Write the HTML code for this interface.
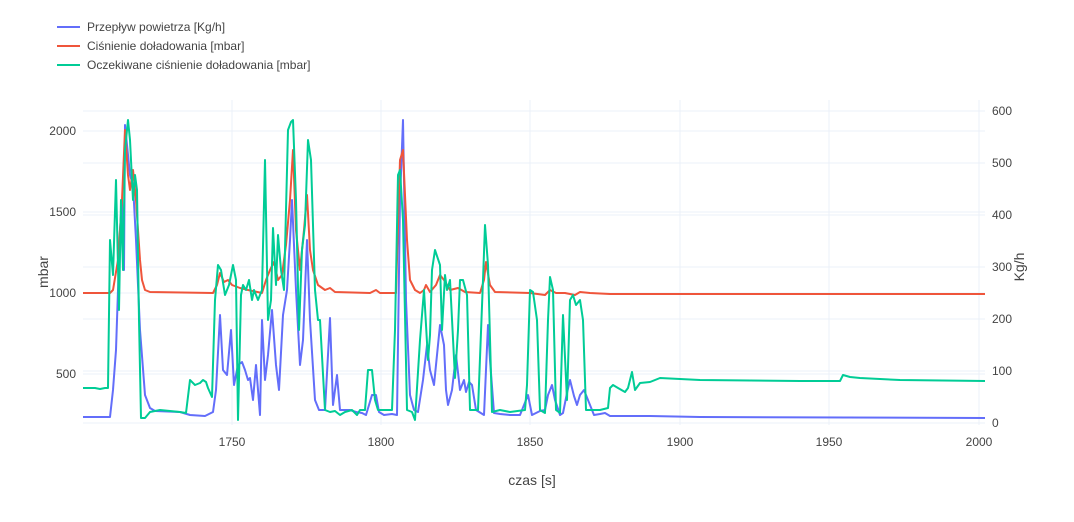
<!DOCTYPE html><html><head><style>body{margin:0;background:#fff}svg{font-family:"Liberation Sans",sans-serif;font-size:12px;fill:#444}</style></head><body>
<svg width="1074" height="517" xmlns="http://www.w3.org/2000/svg">
<g stroke="#ebf0f8" stroke-width="1">
<line x1="83" x2="985" y1="131" y2="131"/><line x1="83" x2="985" y1="212" y2="212"/><line x1="83" x2="985" y1="293" y2="293"/><line x1="83" x2="985" y1="374" y2="374"/>
<line x1="83" x2="985" y1="111" y2="111"/><line x1="83" x2="985" y1="163" y2="163"/><line x1="83" x2="985" y1="215" y2="215"/><line x1="83" x2="985" y1="267" y2="267"/><line x1="83" x2="985" y1="319" y2="319"/><line x1="83" x2="985" y1="371" y2="371"/><line x1="83" x2="985" y1="423" y2="423"/>
<line x1="232" x2="232" y1="100" y2="425"/><line x1="381" x2="381" y1="100" y2="425"/><line x1="530" x2="530" y1="100" y2="425"/><line x1="680" x2="680" y1="100" y2="425"/><line x1="829" x2="829" y1="100" y2="425"/><line x1="979" x2="979" y1="100" y2="425"/>
</g>
<g fill="none" stroke-width="2" stroke-linejoin="round">
<polyline stroke="#636efa" points="83,417 110,417 113,390 116,350 120,230 122,200 124,270 125,125 128,155 130,175 133,185 136,240 140,330 145,395 150,408 155,411 180,412 190,415 205,416 213,412 216,390 220,315 223,370 227,375 231,330 234,385 238,365 242,362 245,370 248,380 250,378 253,400 256,365 260,415 262,320 265,380 268,355 272,310 276,365 279,390 283,315 287,290 290,240 292,200 296,290 300,365 303,340 307,240 310,320 315,400 319,410 325,410 330,318 333,405 337,375 340,410 350,410 356,412 362,413 366,415 372,395 376,395 379,412 384,415 392,414 397,415 400,200 403,120 406,300 410,395 414,410 418,412 423,380 427,345 430,370 434,385 437,355 440,325 444,345 446,390 448,405 452,390 456,355 460,390 464,380 466,392 469,382 472,385 476,410 484,415 488,325 490,360 494,413 500,414 510,415 520,415 524,405 528,395 532,415 536,413 540,411 545,410 548,395 552,385 555,400 560,415 563,413 567,393 570,380 574,396 577,405 580,395 584,390 588,400 590,405 594,415 600,414 605,413 610,416 650,416 700,417 985,418"/>
<polyline stroke="#ef553b" points="83,293 110,293 113,290 118,260 122,200 125,130 128,175 130,190 133,170 136,200 140,260 142,280 145,290 150,292 213,293 217,285 220,273 224,282 228,280 232,285 240,288 248,290 262,293 266,280 270,270 274,262 278,280 282,275 286,245 290,200 293,150 296,230 300,270 304,230 307,195 310,250 313,270 318,285 325,290 330,288 335,292 370,293 376,290 380,293 396,293 400,160 403,150 407,240 410,280 415,290 420,293 424,290 426,285 430,292 436,285 440,275 444,280 450,290 458,288 465,292 480,293 484,280 486,262 490,285 495,292 530,293 545,295 550,290 556,293 565,293 575,295 580,292 590,293 610,294 985,294"/>
<polyline stroke="#00cc96" points="83,388 95,388 100,389 105,388 108,388 110,240 113,275 116,180 119,310 121,200 123,270 125,150 128,120 130,140 133,200 135,175 137,190 139,320 141,418 145,418 150,412 160,410 180,412 186,413 190,380 195,385 200,383 203,380 206,382 208,388 212,397 215,300 218,265 221,270 225,295 229,285 233,265 236,280 238,420 241,295 243,285 246,290 249,280 252,300 254,290 258,300 262,290 265,160 268,320 271,300 273,228 276,285 278,235 281,270 284,290 288,130 291,122 293,120 296,200 299,330 302,250 305,225 308,140 311,160 315,290 318,320 320,320 325,410 330,412 335,411 340,415 345,412 352,410 357,415 360,410 365,410 368,370 372,370 375,400 378,410 392,410 395,330 398,175 400,170 403,220 407,410 412,412 415,420 420,340 424,290 428,360 430,335 432,270 435,250 440,265 442,330 445,275 447,290 450,280 455,378 458,330 460,280 463,280 467,295 470,410 478,410 483,280 485,225 488,265 492,412 500,410 510,412 525,410 527,385 530,290 533,292 537,320 540,410 545,413 548,320 550,277 553,290 556,410 560,413 563,315 567,400 570,300 573,295 576,305 580,300 583,320 586,410 600,410 608,408 610,388 613,385 618,388 625,392 628,388 632,372 635,390 640,383 650,382 660,378 700,380 800,381 840,381 843,375 850,377 860,378 900,380 985,381"/>
</g>
<g text-anchor="end"><text x="76" y="135">2000</text><text x="76" y="216">1500</text><text x="76" y="297">1000</text><text x="76" y="378">500</text></g>
<g text-anchor="start"><text x="992" y="115">600</text><text x="992" y="167">500</text><text x="992" y="219">400</text><text x="992" y="271">300</text><text x="992" y="323">200</text><text x="992" y="375">100</text><text x="992" y="427">0</text></g>
<g text-anchor="middle"><text x="232" y="446">1750</text><text x="381" y="446">1800</text><text x="530" y="446">1850</text><text x="680" y="446">1900</text><text x="829" y="446">1950</text><text x="979" y="446">2000</text>
<text x="532" y="485" font-size="14">czas [s]</text>
<text transform="translate(48,272) rotate(-90)" font-size="14">mbar</text>
<text transform="translate(1024,267) rotate(-90)" font-size="14">Kg/h</text></g>
<g stroke-width="2"><line x1="57" x2="80" y1="27" y2="27" stroke="#636efa"/><line x1="57" x2="80" y1="46" y2="46" stroke="#ef553b"/><line x1="57" x2="80" y1="65" y2="65" stroke="#00cc96"/></g>
<text x="87" y="31">Przepływ powietrza [Kg/h]</text><text x="87" y="50">Ciśnienie doładowania [mbar]</text><text x="87" y="69">Oczekiwane ciśnienie doładowania [mbar]</text>
</svg></body></html>
